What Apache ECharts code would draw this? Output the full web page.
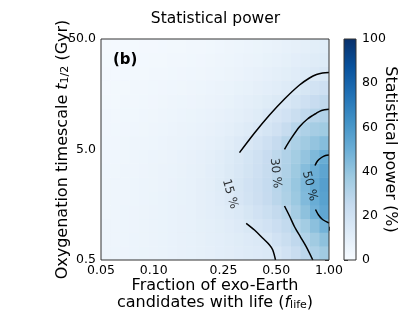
<!DOCTYPE html>
<html>
<head>
<meta charset="utf-8">
<script src="https://cdn.jsdelivr.net/npm/echarts@6/dist/echarts.min.js"></script>
<style>
html, body { margin: 0; padding: 0; background: #fff; }
#chart { width: 407px; height: 326px; }
</style>
</head>
<body>
<div id="chart"></div>
<script>
// cell edges of the power grid (log spaced)
const fEdges = [0.05, 0.0566, 0.0642, 0.0727, 0.0824, 0.0933, 0.1057, 0.1198, 0.1357, 0.1538, 0.1742, 0.1974,
    0.2236, 0.2533, 0.2870, 0.3252, 0.3684, 0.4174, 0.4729, 0.5357, 0.6070, 0.6877, 0.7791, 0.8826, 1.0];
const tEdges = [0.5, 0.667, 0.889, 1.186, 1.581, 2.108, 2.812, 3.749, 5.0, 6.668, 8.891, 11.86, 15.81, 21.08, 28.12, 37.49, 50.0];

// statistical power (%), rows from t = 0.5 (bottom) up to t = 50 (top)
const power = [
    [4.5, 4.8, 5.1, 5.4, 5.8, 6.2, 6.6, 7.0, 7.5, 8.0, 8.6, 9.2, 9.9, 10.6, 11.4, 12.3, 13.2, 14.3, 15.8, 19.5, 23.5, 28.0, 32.5, 36.5],
    [4.4, 4.7, 5.0, 5.3, 5.7, 6.1, 6.5, 7.0, 7.5, 8.0, 8.6, 9.3, 10.0, 10.8, 11.8, 12.9, 14.2, 15.8, 19.5, 23.0, 27.0, 31.5, 36.5, 41.5],
    [4.3, 4.6, 4.9, 5.2, 5.6, 6.0, 6.5, 7.0, 7.5, 8.1, 8.8, 9.6, 10.5, 11.6, 13.2, 15.0, 17.0, 19.5, 22.5, 26.0, 30.5, 36.0, 42.0, 48.0],
    [4.2, 4.5, 4.8, 5.1, 5.5, 5.9, 6.4, 6.9, 7.5, 8.2, 9.0, 9.9, 11.0, 12.4, 14.2, 16.6, 19.2, 22.2, 25.6, 29.5, 35.0, 41.5, 48.5, 53.5],
    [4.1, 4.4, 4.7, 5.0, 5.4, 5.8, 6.3, 6.8, 7.4, 8.1, 9.0, 10.1, 11.6, 13.8, 16.2, 18.8, 21.6, 24.8, 28.4, 32.6, 38.0, 44.5, 50.5, 55.5],
    [4.0, 4.3, 4.6, 4.9, 5.3, 5.7, 6.2, 6.7, 7.3, 8.1, 9.0, 10.2, 11.8, 14.0, 16.5, 19.2, 22.0, 25.3, 29.0, 33.4, 39.0, 45.5, 51.5, 56.5],
    [3.8, 4.1, 4.4, 4.7, 5.1, 5.5, 6.0, 6.5, 7.1, 7.8, 8.7, 9.9, 11.3, 13.3, 15.6, 18.2, 21.0, 24.3, 28.0, 32.3, 37.5, 43.5, 49.5, 54.0],
    [3.6, 3.9, 4.2, 4.5, 4.9, 5.3, 5.7, 6.2, 6.8, 7.5, 8.3, 9.5, 10.9, 12.8, 15.0, 17.5, 20.5, 24.0, 27.5, 31.5, 35.5, 40.0, 45.0, 50.5],
    [3.4, 3.7, 4.0, 4.3, 4.6, 5.0, 5.4, 5.9, 6.4, 7.0, 7.7, 8.5, 9.5, 10.8, 13.0, 15.3, 17.8, 21.0, 25.0, 29.5, 33.0, 36.5, 40.0, 43.5],
    [3.1, 3.4, 3.6, 3.9, 4.2, 4.6, 5.0, 5.4, 5.9, 6.4, 7.0, 7.7, 8.5, 9.5, 10.8, 12.3, 14.8, 17.0, 20.0, 24.5, 29.0, 32.5, 35.0, 37.0],
    [2.8, 3.0, 3.3, 3.5, 3.8, 4.1, 4.5, 4.9, 5.3, 5.8, 6.3, 6.9, 7.6, 8.4, 9.4, 10.6, 12.0, 14.6, 16.8, 19.5, 23.0, 26.5, 29.5, 31.5],
    [2.5, 2.7, 2.9, 3.2, 3.4, 3.7, 4.0, 4.4, 4.8, 5.2, 5.6, 6.1, 6.7, 7.4, 8.3, 9.3, 10.5, 11.8, 13.5, 15.5, 18.0, 21.0, 24.0, 26.5],
    [2.2, 2.4, 2.6, 2.8, 3.0, 3.3, 3.6, 3.9, 4.2, 4.6, 5.0, 5.4, 5.9, 6.5, 7.3, 8.1, 9.0, 10.0, 11.2, 12.6, 14.4, 16.5, 18.8, 21.0],
    [2.0, 2.1, 2.3, 2.5, 2.7, 2.9, 3.1, 3.4, 3.6, 3.9, 4.2, 4.6, 5.0, 5.6, 6.2, 6.9, 7.7, 8.5, 9.5, 10.5, 11.6, 12.8, 14.2, 15.4],
    [1.8, 1.9, 2.0, 2.2, 2.3, 2.5, 2.7, 2.9, 3.1, 3.4, 3.6, 4.0, 4.4, 4.9, 5.4, 6.0, 6.6, 7.3, 8.1, 8.9, 9.8, 10.8, 11.8, 12.8],
    [1.6, 1.7, 1.8, 1.9, 2.0, 2.2, 2.3, 2.5, 2.7, 2.9, 3.2, 3.5, 3.9, 4.3, 4.8, 5.3, 5.8, 6.4, 7.1, 7.8, 8.6, 9.5, 10.4, 11.3]
];

const xTicks = [0.05, 0.10, 0.25, 0.50, 1.00];
const xTickLabels = ['0.05', '0.10', '0.25', '0.50', '1.00'];
const yTicks = [0.5, 5.0, 50.0];
const yTickLabels = ['0.5', '5.0', '50.0'];

// contour lines [f_life, t_1/2], split where the inline labels sit
const contour15Upper = [[0.3085, 4.68], [0.3757, 7.05], [0.4577, 10.26], [0.5572, 14.32], [0.6789, 19.17], [0.7742, 22.18], [0.8487, 23.86], [0.9183, 24.62], [1.0, 24.87]];
const contour15Lower = [[0.3368, 1.074], [0.3757, 0.934], [0.4192, 0.786], [0.4577, 0.684], [0.4777, 0.616], [0.4952, 0.5]];
const contour30Upper = [[0.5572, 5.02], [0.6109, 6.36], [0.6789, 8.04], [0.7541, 9.44], [0.8452, 10.63], [0.9062, 11.27], [1.0, 11.56]];
const contour30Lower = [[0.5572, 1.541], [0.5953, 1.251], [0.6357, 1.0], [0.6879, 0.807], [0.7411, 0.660], [0.8083, 0.5]];
const contour50Upper = [[0.8320, 3.582], [0.8596, 3.935], [0.9062, 4.232], [0.955, 4.412], [1.0, 4.46]];
const contour50Lower = [[0.8375, 1.432], [0.8712, 1.277], [0.9183, 1.163], [1.0, 1.081]];

const levelLabels = ['15 %', '30 %', '50 %'];
const levelLabelPos = [[0.272, 1.98], [0.495, 3.05], [0.774, 2.34]];
const levelLabelAngle = [-74, -84, -76];

const lg = Math.log10;
const font = 'DejaVu Sans';
const blues = ['#f7fbff', '#deebf7', '#c6dbef', '#9ecae1', '#6baed6', '#4292c6', '#2171b5', '#08519c', '#08306b'];

const cells = [];
power.forEach((row, j) => row.forEach((v, i) => {
    cells.push([lg(fEdges[i]), lg(fEdges[i + 1]), lg(tEdges[j]), lg(tEdges[j + 1]), v]);
}));
const toLog = pts => pts.map(p => [lg(p[0]), lg(p[1])]);
const tickFormatter = (ticks, labels) => v => {
    const k = ticks.findIndex(t => Math.abs(lg(t) - v) < 1e-6);
    return k < 0 ? '' : labels[k];
};

const contourSeries = pts => ({
    type: 'line', xAxisIndex: 0, yAxisIndex: 0, data: toLog(pts),
    symbol: 'none', smooth: 0.3, silent: true, z: 5,
    lineStyle: {color: '#000', width: 1.5}
});

const nameRich = {
    i: {fontSize: 16, fontStyle: 'italic', fontFamily: font, color: '#000', lineHeight: 17},
    sub: {fontSize: 11, fontFamily: font, color: '#000', lineHeight: 17, verticalAlign: 'bottom'}
};

const chart = echarts.init(document.getElementById('chart'), null, {renderer: 'canvas'});
chart.setOption({
    animation: false,
    textStyle: {fontFamily: font},
    grid: [
        {left: 101, top: 39, width: 228, height: 221, show: true, z: 10, borderColor: '#333', borderWidth: 1, backgroundColor: 'transparent', containLabel: false, outerBoundsMode: 'none'},
        {left: 344, top: 39, width: 12, height: 221, show: true, z: 10, borderColor: '#333', borderWidth: 1, backgroundColor: 'transparent', containLabel: false, outerBoundsMode: 'none'}
    ],
    xAxis: [{
        gridIndex: 0, type: 'value', min: lg(0.05), max: 0,
        name: 'Fraction of exo-Earth\ncandidates with life ({i|f}{sub|life})',
        nameLocation: 'middle', nameGap: 17, nameMoveOverlap: false,
        nameTextStyle: {fontSize: 16, color: '#000', fontFamily: font, lineHeight: 17, rich: nameRich},
        axisLine: {show: false},
        splitLine: {show: false},
        axisTick: {show: true, length: 4, customValues: xTicks.map(lg), lineStyle: {color: '#333'}},
        axisLabel: {customValues: xTicks.map(lg), formatter: tickFormatter(xTicks, xTickLabels), fontSize: 12.5, color: '#000', margin: 4, fontFamily: font}
    }, {
        gridIndex: 1, type: 'value', min: 0, max: 1, show: false
    }],
    yAxis: [{
        gridIndex: 0, type: 'value', min: lg(0.5), max: lg(50),
        name: 'Oxygenation timescale {i|t}{sub|1/2} (Gyr)',
        nameLocation: 'middle', nameGap: 30, nameMoveOverlap: false,
        nameTextStyle: {fontSize: 16, color: '#000', fontFamily: font, lineHeight: 17, rich: nameRich},
        axisLine: {show: false},
        splitLine: {show: false},
        axisTick: {show: true, length: 4, customValues: yTicks.map(lg), lineStyle: {color: '#333'}},
        axisLabel: {customValues: yTicks.map(lg), formatter: tickFormatter(yTicks, yTickLabels), fontSize: 12.5, color: '#000', margin: 5, fontFamily: font}
    }, {
        gridIndex: 1, type: 'value', min: 0, max: 100, interval: 20, position: 'right',
        name: 'Statistical power (%)', nameLocation: 'middle', nameRotate: -90, nameGap: 26, nameMoveOverlap: false,
        nameTextStyle: {fontSize: 16, color: '#000', fontFamily: font},
        axisLine: {show: false},
        splitLine: {show: false},
        axisTick: {show: true, length: 4, lineStyle: {color: '#333'}},
        axisLabel: {fontSize: 12.5, color: '#000', margin: 6, fontFamily: font}
    }],
    visualMap: {
        type: 'continuous', show: false, min: 0, max: 100, dimension: 4, seriesIndex: 0,
        inRange: {color: blues}
    },
    graphic: [
        {type: 'text', x: 215.5, y: 11, style: {text: 'Statistical power', font: '15.5px "DejaVu Sans"', fill: '#000', align: 'center', verticalAlign: 'top'}},
        {type: 'text', x: 113, y: 53, z: 20, style: {text: '(b)', font: 'bold 15px "DejaVu Sans"', fill: '#000', align: 'left', verticalAlign: 'top'}}
    ],
    series: [
        {
            type: 'custom', xAxisIndex: 0, yAxisIndex: 0, data: cells, clip: true, silent: true,
            encode: {x: [0, 1], y: [2, 3]},
            renderItem: (params, api) => {
                const a = api.coord([api.value(0), api.value(2)]);
                const b = api.coord([api.value(1), api.value(3)]);
                return {
                    type: 'rect',
                    shape: {x: a[0], y: b[1], width: b[0] - a[0] + 0.5, height: a[1] - b[1] + 0.5},
                    style: {fill: api.visual('color')}
                };
            }
        },
        contourSeries(contour15Upper),
        contourSeries(contour15Lower),
        contourSeries(contour30Upper),
        contourSeries(contour30Lower),
        contourSeries(contour50Upper),
        contourSeries(contour50Lower),
        {
            type: 'scatter', xAxisIndex: 0, yAxisIndex: 0, symbolSize: 0, silent: true, z: 6,
            data: levelLabelPos.map((p, k) => ({
                name: levelLabels[k], value: [lg(p[0]), lg(p[1])], label: {rotate: levelLabelAngle[k]}
            })),
            label: {show: true, position: 'inside', formatter: '{b}', fontSize: 12, color: '#000', fontFamily: font}
        },
        {
            type: 'custom', xAxisIndex: 1, yAxisIndex: 1, data: [[0, 0]], silent: true,
            renderItem: (params, api) => {
                const a = api.coord([0, 0]);
                const b = api.coord([1, 100]);
                return {
                    type: 'rect',
                    shape: {x: a[0], y: b[1], width: b[0] - a[0], height: a[1] - b[1]},
                    style: {fill: new echarts.graphic.LinearGradient(0, 1, 0, 0, blues.map((c, k) => ({offset: k / 8, color: c})))}
                };
            }
        }
    ]
});
</script>
</body>
</html>
